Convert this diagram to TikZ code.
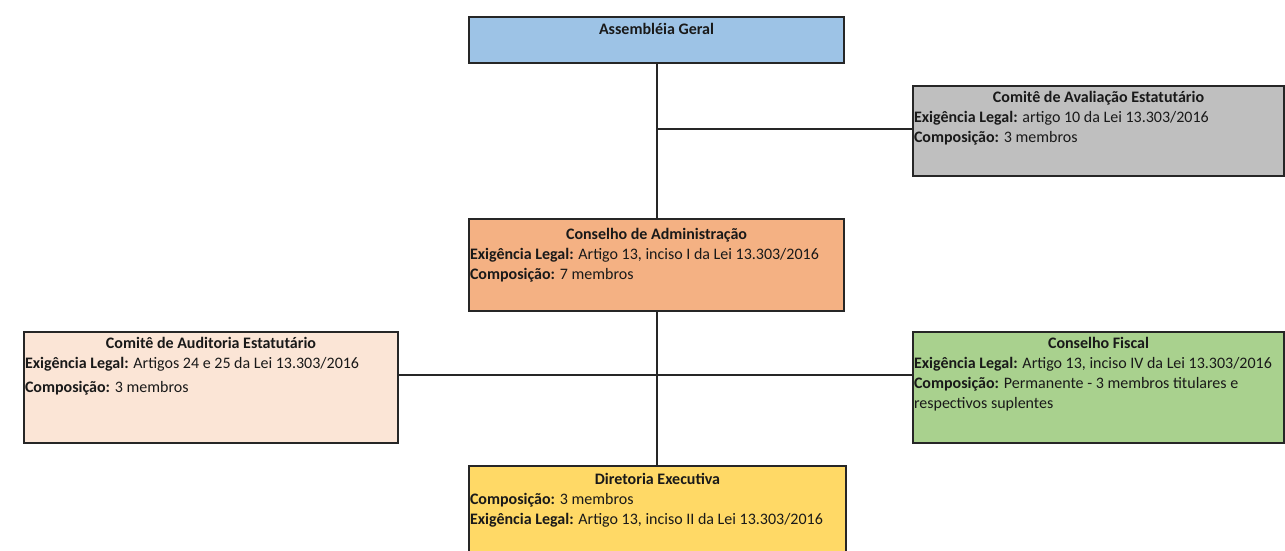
\documentclass[tikz,border=0pt]{standalone}
\usepackage{fontspec}
\setmainfont{Carlito}
\usetikzlibrary{positioning}

\definecolor{azulag}{HTML}{9DC3E6}
\definecolor{cinzacae}{HTML}{BFBFBF}
\definecolor{laranjaca}{HTML}{F4B183}
\definecolor{rosacaud}{HTML}{FBE5D6}
\definecolor{verdecf}{HTML}{A9D18E}
\definecolor{amarelode}{HTML}{FFD966}

% box contents: [top gap], width, height, title, lines
\newcommand{\caixa}[5][5pt]{\parbox[c][#3][t]{#2}{\vspace*{#1}{\centering\textbf{#4}\par}\raggedright #5}}

\tikzset{
  orgbox/.style={draw=black!85, line width=2pt, anchor=north west, inner xsep=1pt, inner ysep=0pt,
    text=black!90, font=\fontsize{16}{20}\selectfont},
  linha/.style={line width=2pt, black!85}
}

\begin{document}
\begin{tikzpicture}[x=1pt,y=-1pt]

    \useasboundingbox (0,0) rectangle (1285,550);
    \clip (0,0) rectangle (1285,550);

    %the boxes
    \node[orgbox, fill=azulag] (ag) at (468,16) {\caixa[6pt]{373pt}{46pt}{Assembléia Geral}{}};
    \node[orgbox, fill=cinzacae] (cae) at (912,85) {\caixa{369pt}{90pt}{Comitê de Avaliação Estatutário}{%
        \textbf{Exigência Legal:} artigo 10 da Lei 13.303/2016\\
        \textbf{Composição:} 3 membros}};
    \node[orgbox, fill=laranjaca] (ca) at (468,218) {\caixa[9pt]{373pt}{92pt}{Conselho de Administração}{%
        \textbf{Exigência Legal:} Artigo 13, inciso I da Lei 13.303/2016\\
        \textbf{Composição:} 7 membros}};
    \node[orgbox, fill=rosacaud] (caud) at (23,331) {\caixa{372pt}{111pt}{Comitê de Auditoria Estatutário}{%
        \textbf{Exigência Legal:} Artigos 24 e 25 da Lei 13.303/2016\\[4pt]
        \textbf{Composição:} 3 membros}};
    \node[orgbox, fill=verdecf] (cf) at (912,331) {\caixa{369pt}{111pt}{Conselho Fiscal}{%
        \textbf{Exigência Legal:} Artigo 13, inciso IV da Lei 13.303/2016\\
        \textbf{Composição:} Permanente - 3 membros titulares e\\
        respectivos suplentes}};
    \node[orgbox, fill=amarelode] (de) at (468,465) {\caixa[7pt]{375pt}{100pt}{Diretoria Executiva}{%
        \textbf{Composição:} 3 membros\\
        \textbf{Exigência Legal:} Artigo 13, inciso II da Lei 13.303/2016}};

    %the connectors
    \coordinate (j1) at (ag.south |- 0,129);
    \coordinate (j2) at (ca.south |- 0,375);
    \draw[linha] (ag.south) -- (ca.north);
    \draw[linha] (j1) -- (cae.west |- j1);
    \draw[linha] (ca.south) -- (ca.south |- de.north);
    \draw[linha] (caud.east |- j2) -- (cf.west |- j2);

\end{tikzpicture}
\end{document}
